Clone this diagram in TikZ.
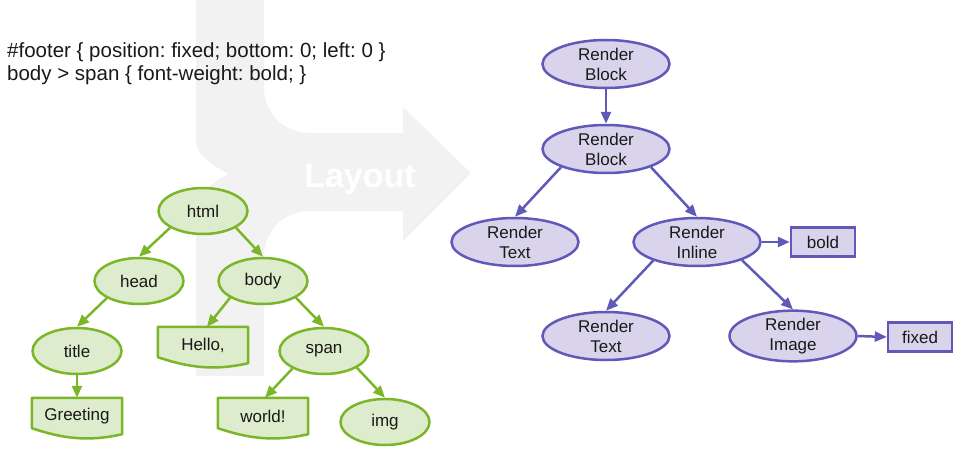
\documentclass[tikz,border=0pt]{standalone}
\usepackage{fontspec}
\setmainfont{Liberation Sans}
\usetikzlibrary{arrows.meta,shapes.geometric}
\pgfdeclarelayer{back}
\pgfdeclarelayer{background}
\pgfsetlayers{back,background,main}
\definecolor{gline}{HTML}{7AB628}
\definecolor{gfill}{HTML}{DCECCC}
\definecolor{pline}{HTML}{5F5AB9}
\definecolor{pfill}{HTML}{D9D4EC}
\definecolor{flow}{HTML}{F2F2F2}
\frenchspacing
\tikzset{
  nodefont/.style={font=\fontsize{17}{20}\selectfont, text=black!90},
  cssfont/.style={font=\fontsize{20.5}{23}\selectfont, text=black!90},
  gell/.style={ellipse, draw=gline, fill=gfill, line width=2.5pt, minimum width=89pt, minimum height=46pt, inner sep=0pt, nodefont},
  docbox/.style={rectangle, minimum width=90pt, minimum height=36pt, inner sep=0pt, nodefont},
  docline/.style={draw=gline, fill=gfill, line width=2.5pt, line join=round},
  pell/.style={ellipse, draw=pline, fill=pfill, line width=2.5pt, minimum width=127pt, minimum height=48pt, inner sep=0pt, nodefont, align=center},
  pbox/.style={rectangle, draw=pline, fill=pfill, line width=2.5pt, minimum width=64pt, minimum height=29pt, inner sep=0pt, nodefont},
  garrow/.style={draw=gline, line width=2.5pt, -{Triangle[length=12pt,width=10pt]}},
  parrow/.style={draw=pline, line width=2.5pt, -{Triangle[length=12pt,width=10pt]}},
}
\begin{document}
\begin{tikzpicture}[x=1pt,y=-1pt]
\useasboundingbox (0,0) rectangle (975,452);
% background flow arrow
\begin{pgfonlayer}{back}
\fill[flow] (196,0) -- (264,0) -- (264,88) .. controls (264,113) and (284,133) .. (309,133)
  -- (403,133) -- (403,107) -- (471,173) -- (403,241) -- (403,211) -- (309,211)
  .. controls (284,211) and (264,231) .. (264,256) -- (264,376) -- (196,376) -- (196,212)
  .. controls (196,195) and (215,180) .. (229,174) .. controls (215,168) and (196,155) .. (196,140) -- cycle;
\end{pgfonlayer}
\node[font=\fontsize{34}{38}\selectfont\bfseries, text=white, anchor=base] (layout) at (360,187) {Layout};
% header
\node[anchor=base west, cssfont, inner sep=0pt] (css1) at (7,58) {\#footer \{ position: fixed; bottom: 0; left: 0 \}};
\node[anchor=base west, cssfont, inner sep=0pt] (css2) at (7,81) {body > span \{ font-weight: bold; \}};
% DOM tree
\node[gell] (html) at (203,211) {html};
\node[gell] (head) at (139,281) {head};
\node[gell] (body) at (263,281) {body};
\node[gell] (title) at (77,351) {title};
\node[docbox] (hello) at (203,345) {Hello,};
\node[gell] (span) at (324,351) {span};
\node[docbox] (greet) at (77,416) {Greeting};
\node[docbox] (world) at (263,416) {world!};
\node[gell] (img) at (385,422) {img};
\begin{pgfonlayer}{background}
\foreach \n in {hello,greet,world}{
  \path[docline] (\n.south east) -- (\n.north east) -- (\n.north west) -- ([yshift=6pt]\n.south west)
    .. controls +(30pt,-10pt) and +(-35pt,-8pt) .. (\n.south east) -- cycle;
}
\end{pgfonlayer}
\draw[garrow] (html.207) -- (head.north);
\draw[garrow] (html.333) -- (body.north);
\draw[garrow] (head.208) -- (title.north);
\draw[garrow] (body.207) -- ([xshift=4pt]hello.north);
\draw[garrow] (body.333) -- (span.north);
\draw[garrow] (title.south) -- (greet.north);
\draw[garrow] (span.209) -- ([xshift=2pt]world.north);
\draw[garrow] (span.333) -- (img.north);
% render tree
\node[pell] (rb1) at (606,64) {Render\\Block};
\node[pell] (rb2) at (606,149) {Render\\Block};
\node[pell] (rt1) at (515,242) {Render\\Text};
\node[pell] (ri) at (697,242) {Render\\Inline};
\node[pbox] (bold) at (823,242) {bold};
\node[pell] (rt2) at (606,336) {Render\\Text};
\node[pell] (rimg) at (793,336) {Render\\Image};
\node[pbox] (fixed) at (920,337) {fixed};
\draw[parrow] (rb1.south) -- (rb2.north);
\draw[parrow] (rb2.202) -- (rt1.north);
\draw[parrow] (rb2.338) -- (ri.north);
\draw[parrow] (ri.203) -- (rt2.north);
\draw[parrow] (ri.338) -- (rimg.north);
\draw[parrow] (ri.east) -- (bold.west);
\draw[parrow] (rimg.east) -- (fixed.west);
\end{tikzpicture}
\end{document}
